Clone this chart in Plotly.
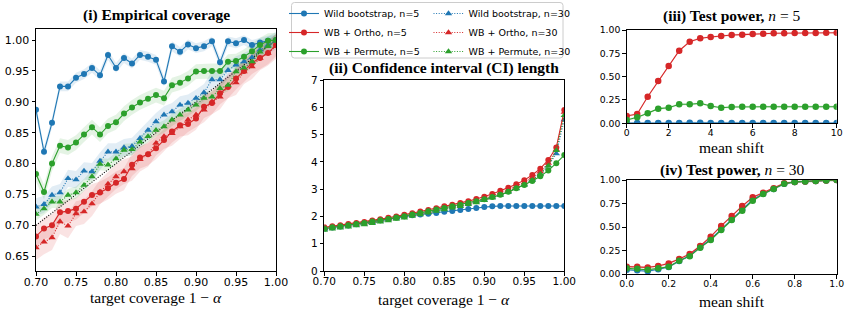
import plotly.graph_objects as go

W, H = 850, 314

# ---------------- data ----------------
coverage = [0.70, 0.71, 0.72, 0.73, 0.74, 0.75, 0.76, 0.77, 0.78, 0.79, 0.80,
            0.81, 0.82, 0.83, 0.84, 0.85, 0.86, 0.87, 0.88, 0.89, 0.90,
            0.91, 0.92, 0.93, 0.94, 0.95, 0.96, 0.97, 0.98, 0.99, 1.00]

cov_wb5 = [0.887, 0.819, 0.866, 0.925, 0.925, 0.939, 0.945, 0.955, 0.943, 0.976, 0.955,
           0.971, 0.962, 0.976, 0.973, 0.968, 0.933, 0.990, 0.981, 0.993, 0.987,
           0.990, 0.998, 0.964, 0.998, 0.995, 1.000, 0.992, 0.996, 0.999, 1.000]
cov_ortho5 = [0.682, 0.695, 0.700, 0.721, 0.723, 0.727, 0.738, 0.749, 0.753, 0.760, 0.769,
              0.775, 0.798, 0.810, 0.815, 0.825, 0.838, 0.852, 0.862, 0.864, 0.873,
              0.892, 0.898, 0.914, 0.924, 0.938, 0.950, 0.963, 0.971, 0.979, 0.992]
cov_perm5 = [0.783, 0.754, 0.800, 0.829, 0.826, 0.834, 0.847, 0.859, 0.847, 0.861, 0.867,
             0.881, 0.891, 0.899, 0.905, 0.911, 0.906, 0.927, 0.931, 0.938, 0.949,
             0.950, 0.950, 0.950, 0.965, 0.966, 0.973, 0.982, 0.992, 0.999, 1.000]
cov_wb30 = [0.730, 0.734, 0.749, 0.753, 0.776, 0.774, 0.788, 0.787, 0.804, 0.819, 0.819,
            0.826, 0.828, 0.841, 0.854, 0.868, 0.879, 0.884, 0.895, 0.898, 0.906,
            0.915, 0.936, 0.936, 0.951, 0.960, 0.965, 0.972, 0.984, 0.992, 0.999]
cov_ortho30 = [0.664, 0.673, 0.680, 0.706, 0.699, 0.719, 0.722, 0.735, 0.754, 0.767, 0.779,
               0.787, 0.792, 0.807, 0.815, 0.833, 0.844, 0.849, 0.860, 0.871, 0.879,
               0.887, 0.900, 0.908, 0.926, 0.931, 0.949, 0.957, 0.971, 0.979, 0.990]
cov_perm30 = [0.718, 0.727, 0.738, 0.738, 0.749, 0.753, 0.765, 0.779, 0.799, 0.798, 0.808,
              0.822, 0.823, 0.835, 0.844, 0.854, 0.860, 0.871, 0.879, 0.887, 0.895,
              0.906, 0.908, 0.922, 0.927, 0.949, 0.955, 0.965, 0.981, 0.990, 1.000]
# half-widths of shaded bands (panel i)
band_wb5, band_ortho5, band_perm5 = 0.008, 0.018, 0.012
band_wb30, band_ortho30, band_perm30 = 0.014, 0.02, 0.01

ideal_x = [0.70, 1.00]
ideal_y = [0.70, 1.00]

ci_wb5 = [1.55, 1.59, 1.63, 1.67, 1.71, 1.76, 1.81, 1.86, 1.91, 1.96, 2.01,
          2.04, 2.07, 2.10, 2.13, 2.17, 2.20, 2.24, 2.27, 2.31, 2.35,
          2.37, 2.38, 2.38, 2.38, 2.38, 2.38, 2.38, 2.38, 2.38, 2.38]
ci_ortho5 = [1.60, 1.64, 1.68, 1.72, 1.76, 1.80, 1.85, 1.90, 1.95, 2.00, 2.06,
             2.12, 2.18, 2.24, 2.30, 2.37, 2.43, 2.49, 2.56, 2.64, 2.72,
             2.82, 2.94, 3.05, 3.18, 3.33, 3.52, 3.75, 4.07, 4.53, 5.90]
ci_perm5 = [1.56, 1.60, 1.64, 1.68, 1.72, 1.76, 1.81, 1.86, 1.91, 1.96, 2.01,
            2.07, 2.13, 2.19, 2.25, 2.31, 2.37, 2.43, 2.49, 2.56, 2.63,
            2.71, 2.79, 2.90, 3.03, 3.15, 3.30, 3.47, 3.68, 3.95, 4.25]
ci_wb30 = [1.53, 1.57, 1.61, 1.65, 1.69, 1.73, 1.78, 1.83, 1.88, 1.93, 1.98,
           2.04, 2.10, 2.16, 2.22, 2.28, 2.34, 2.40, 2.47, 2.54, 2.61,
           2.70, 2.80, 2.91, 3.03, 3.17, 3.35, 3.56, 3.86, 4.30, 5.55]
ci_ortho30 = [1.57, 1.61, 1.65, 1.69, 1.73, 1.77, 1.82, 1.87, 1.92, 1.97, 2.02,
              2.08, 2.14, 2.20, 2.26, 2.32, 2.38, 2.44, 2.51, 2.58, 2.66,
              2.75, 2.86, 2.97, 3.10, 3.24, 3.42, 3.64, 3.95, 4.45, 5.82]
ci_perm30 = [1.50, 1.54, 1.58, 1.62, 1.66, 1.70, 1.75, 1.80, 1.85, 1.90, 1.95,
             2.01, 2.07, 2.13, 2.19, 2.25, 2.31, 2.37, 2.44, 2.51, 2.59,
             2.68, 2.78, 2.90, 3.02, 3.16, 3.33, 3.55, 3.85, 4.42, 5.70]

shift5 = [0, 0.5, 1, 1.5, 2, 2.5, 3, 3.5, 4, 4.5, 5, 5.5, 6, 6.5, 7, 7.5, 8, 8.5, 9, 9.5, 10]
pow5_wb = [0.003, 0.002, 0.003, 0.002, 0.003, 0.004, 0.006, 0.005, 0.004, 0.003, 0.002,
           0.003, 0.003, 0.002, 0.003, 0.003, 0.002, 0.003, 0.002, 0.003, 0.002]
pow5_ortho = [0.078, 0.100, 0.285, 0.453, 0.614, 0.778, 0.875, 0.911, 0.925, 0.936, 0.946,
              0.950, 0.958, 0.960, 0.965, 0.966, 0.967, 0.968, 0.969, 0.970, 0.970]
pow5_perm = [0.036, 0.064, 0.107, 0.157, 0.167, 0.204, 0.204, 0.214, 0.185, 0.167, 0.175,
             0.177, 0.178, 0.178, 0.178, 0.178, 0.178, 0.178, 0.178, 0.178, 0.178]

shift30 = [0.0, 0.05, 0.1, 0.15, 0.2, 0.25, 0.3, 0.35, 0.4, 0.45, 0.5,
           0.55, 0.6, 0.65, 0.7, 0.75, 0.8, 0.85, 0.9, 0.95, 1.0]
pow30_wb = [0.045, 0.040, 0.030, 0.050, 0.075, 0.138, 0.195, 0.285, 0.370, 0.475, 0.580,
            0.685, 0.790, 0.855, 0.905, 0.960, 0.980, 0.985, 0.990, 0.995, 1.000]
pow30_ortho = [0.078, 0.078, 0.070, 0.085, 0.113, 0.160, 0.213, 0.298, 0.397, 0.511, 0.617,
               0.723, 0.816, 0.865, 0.911, 0.965, 0.979, 0.985, 0.990, 0.995, 1.000]
pow30_perm = [0.060, 0.055, 0.045, 0.060, 0.078, 0.140, 0.190, 0.280, 0.362, 0.468, 0.574,
              0.674, 0.780, 0.851, 0.904, 0.960, 0.980, 0.985, 0.990, 0.995, 1.000]
pow_band = 0.012

# ---------------- styles ----------------
BLUE, RED, GREEN = '#1f77b4', '#d62728', '#2ca02c'
RGBA = {BLUE: 'rgba(31,119,180,0.13)', RED: 'rgba(214,39,40,0.13)', GREEN: 'rgba(44,160,44,0.13)'}
DOT = '1px,1.6px'
TICKFONT = 'DejaVu Sans'
SERIF = 'Liberation Serif, Times New Roman, serif'

fig = go.Figure()


def band(x, y, hw, color, xa, ya):
    up = [v + hw for v in y]
    lo = [v - hw for v in y]
    fig.add_trace(go.Scatter(x=list(x) + list(x)[::-1], y=up + lo[::-1], fill='toself',
                             fillcolor=RGBA[color], line=dict(width=0), mode='lines',
                             hoverinfo='skip', showlegend=False, xaxis=xa, yaxis=ya))


def series(x, y, color, symbol, dash, xa, ya, name=None, legend=None, rank=None, msize=6):
    fig.add_trace(go.Scatter(
        x=x, y=y, mode='lines+markers', name=name or '',
        line=dict(color=color, width=1.1, dash=dash),
        marker=dict(color=color, symbol=symbol, size=msize, line=dict(width=0)),
        showlegend=name is not None, legend=legend if legend else 'legend',
        legendrank=rank if rank else 1000, xaxis=xa, yaxis=ya))


# panel (i)
for y, hw, c in [(cov_wb5, band_wb5, BLUE), (cov_wb30, band_wb30, BLUE),
                 (cov_ortho5, band_ortho5, RED), (cov_ortho30, band_ortho30, RED),
                 (cov_perm5, band_perm5, GREEN), (cov_perm30, band_perm30, GREEN)]:
    band(coverage, y, hw, c, 'x', 'y')

fig.add_trace(go.Scatter(x=ideal_x, y=ideal_y, mode='lines', line=dict(color='black', width=1.1, dash=DOT),
                         showlegend=False, hoverinfo='skip', xaxis='x', yaxis='y'))

series(coverage, cov_wb5, BLUE, 'circle', 'solid', 'x', 'y', 'Wild bootstrap, n=5', 'legend', 1)
series(coverage, cov_wb30, BLUE, 'triangle-up', DOT, 'x', 'y', 'Wild bootstrap, n=30', 'legend2', 1, 6.5)
series(coverage, cov_ortho5, RED, 'circle', 'solid', 'x', 'y', 'WB + Ortho, n=5', 'legend', 2)
series(coverage, cov_ortho30, RED, 'triangle-up', DOT, 'x', 'y', 'WB + Ortho, n=30', 'legend2', 2, 6.5)
series(coverage, cov_perm5, GREEN, 'circle', 'solid', 'x', 'y', 'WB + Permute, n=5', 'legend', 3)
series(coverage, cov_perm30, GREEN, 'triangle-up', DOT, 'x', 'y', 'WB + Permute, n=30', 'legend2', 3, 6.5)

# panel (ii)
series(coverage, ci_wb5, BLUE, 'circle', 'solid', 'x2', 'y2')
series(coverage, ci_wb30, BLUE, 'triangle-up', DOT, 'x2', 'y2', msize=6.5)
series(coverage, ci_ortho5, RED, 'circle', 'solid', 'x2', 'y2')
series(coverage, ci_ortho30, RED, 'triangle-up', DOT, 'x2', 'y2', msize=6.5)
series(coverage, ci_perm5, GREEN, 'circle', 'solid', 'x2', 'y2')
series(coverage, ci_perm30, GREEN, 'triangle-up', DOT, 'x2', 'y2', msize=6.5)

# panel (iii)
for y, c in [(pow5_wb, BLUE), (pow5_ortho, RED), (pow5_perm, GREEN)]:
    band(shift5, y, pow_band, c, 'x3', 'y3')
for y, c in [(pow5_wb, BLUE), (pow5_ortho, RED), (pow5_perm, GREEN)]:
    series(shift5, y, c, 'circle', 'solid', 'x3', 'y3', msize=6.5)

# panel (iv)
for y, c in [(pow30_wb, BLUE), (pow30_ortho, RED), (pow30_perm, GREEN)]:
    band(shift30, y, pow_band, c, 'x4', 'y4')
for y, c in [(pow30_wb, BLUE), (pow30_ortho, RED), (pow30_perm, GREEN)]:
    series(shift30, y, c, 'circle', 'solid', 'x4', 'y4', msize=6.5)


# ---------------- layout ----------------
def px(x):
    return x / W


def py(y):
    return 1 - y / H


def axis(domain, rng, tickvals, fmt, size, anchor, standoff=0):
    return dict(domain=domain, range=rng, tickvals=tickvals, tickformat=fmt, anchor=anchor,
                automargin=False, ticklabelstandoff=standoff,
                showline=True, linecolor='black', linewidth=1, mirror=True,
                ticks='outside', ticklen=3.5, tickwidth=1, tickcolor='black',
                showgrid=False, zeroline=False,
                tickfont=dict(family=TICKFONT, size=size, color='black'))


cov_ticks = [0.70, 0.75, 0.80, 0.85, 0.90, 0.95, 1.00]
fig.update_layout(
    xaxis=axis([px(36), px(276)], [0.70, 1.00], cov_ticks, '.2f', 11, 'y', -3),
    yaxis=axis([py(271), py(29)], [0.626, 1.018], [0.65, 0.70, 0.75, 0.80, 0.85, 0.90, 0.95, 1.00], '.2f', 11, 'x'),
    xaxis2=axis([px(324.3), px(564.3)], [0.70, 1.00], cov_ticks, '.2f', 10.5, 'y2', -3),
    yaxis2=axis([py(271), py(80)], [0, 7], [0, 1, 2, 3, 4, 5, 6, 7], 'd', 10.5, 'x2'),
    xaxis3=axis([px(626.7), px(836.7)], [0, 10], [0, 2, 4, 6, 8, 10], 'd', 9.3, 'y3', -3),
    yaxis3=axis([py(123.3), py(30)], [0, 1], [0, 0.25, 0.5, 0.75, 1.0], '.2f', 9.3, 'x3'),
    xaxis4=axis([px(626.7), px(836.7)], [0, 1], [0, 0.2, 0.4, 0.6, 0.8, 1.0], '.1f', 9.3, 'y4', -3),
    yaxis4=axis([py(274), py(180)], [0, 1], [0, 0.25, 0.5, 0.75, 1.0], '.2f', 9.3, 'x4'),
    width=W, height=H, margin=dict(l=0, r=0, t=0, b=0, autoexpand=False),
    plot_bgcolor='white', paper_bgcolor='white',
    legend=dict(x=px(284), y=py(-1), xanchor='left', yanchor='top', bgcolor='rgba(0,0,0,0)',
                borderwidth=0, itemwidth=30, tracegroupgap=0,
                font=dict(family=TICKFONT, size=9.5, color='black')),
    legend2=dict(x=px(428.5), y=py(-1), xanchor='left', yanchor='top', bgcolor='rgba(0,0,0,0)',
                 borderwidth=0, itemwidth=30, tracegroupgap=0,
                 font=dict(family=TICKFONT, size=9.5, color='black')),
)

# legend frame (rounded rectangle)
x0, x1, y0, y1 = px(291.5), px(563), py(2.5), py(58)
rx, ry = 3 / W, 3 / H
path = (f"M{x0+rx},{y0} L{x1-rx},{y0} Q{x1},{y0} {x1},{y0-ry} L{x1},{y1+ry} Q{x1},{y1} {x1-rx},{y1} "
        f"L{x0+rx},{y1} Q{x0},{y1} {x0},{y1+ry} L{x0},{y0-ry} Q{x0},{y0} {x0+rx},{y0} Z")
fig.add_shape(type='path', path=path, xref='paper', yref='paper',
              line=dict(color='#cccccc', width=1), fillcolor='rgba(0,0,0,0)', layer='below')

titles = [
    ('<b>(i) Empirical coverage</b>', 156, 15),
    ('<b>(ii) Confidence interval (CI) length</b>', 444.3, 67.5),
    ('<b>(iii) Test power,</b> <i>n</i> = 5', 731.7, 16),
    ('<b>(iv) Test power,</b> <i>n</i> = 30', 731.7, 170),
]
for text, x, y in titles:
    fig.add_annotation(text=text, x=px(x), y=py(y), xref='paper', yref='paper', showarrow=False,
                       xanchor='center', yanchor='middle', font=dict(family=SERIF, size=15.5, color='black'))

xlabels = [
    ('target coverage 1 − <i>α</i>', 156, 297.5),
    ('target coverage 1 − <i>α</i>', 444.3, 299.5),
    ('mean shift', 731.7, 147),
    ('mean shift', 731.7, 301),
]
for text, x, y in xlabels:
    fig.add_annotation(text=text, x=px(x), y=py(y), xref='paper', yref='paper', showarrow=False,
                       xanchor='center', yanchor='middle', font=dict(family=SERIF, size=15.5, color='black'))

fig.write_html('out.html')
